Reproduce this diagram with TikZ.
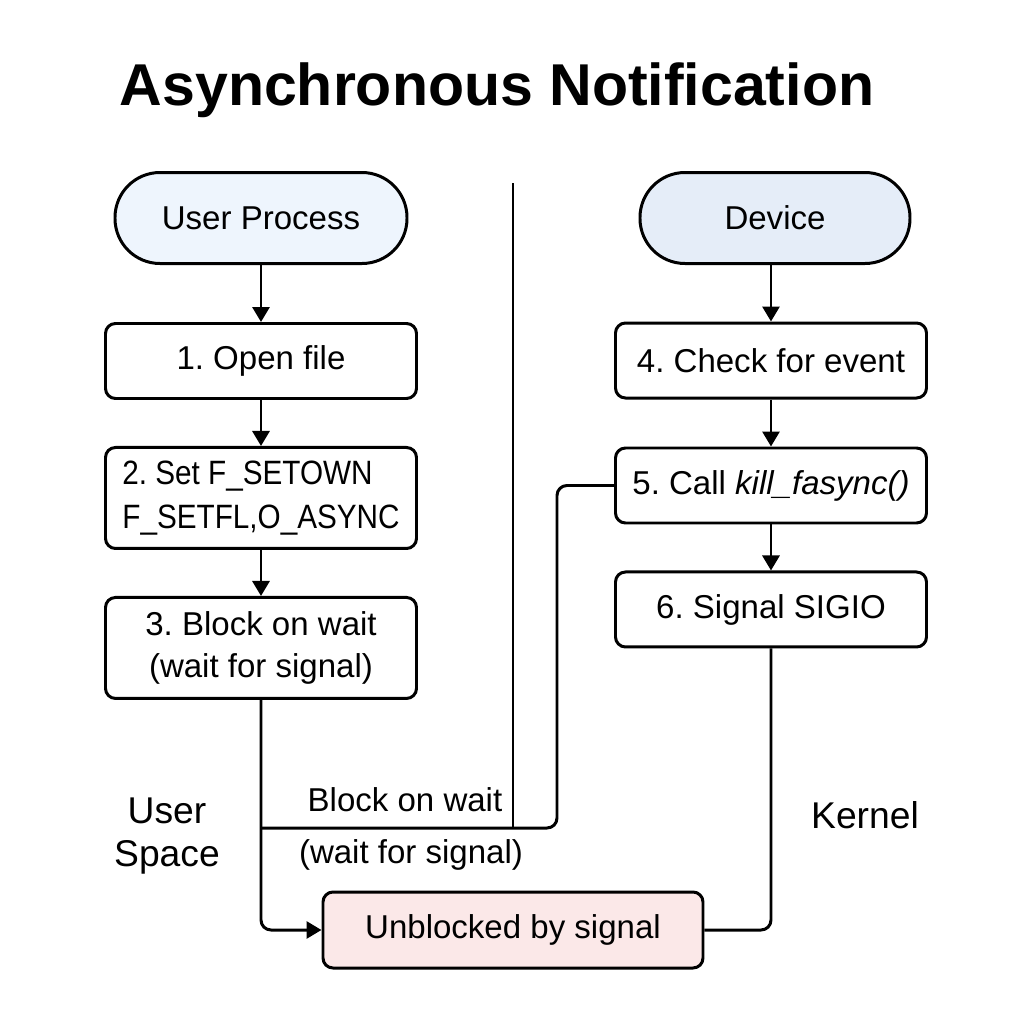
\documentclass[tikz,border=0pt]{standalone}
\usepackage{fontspec}
\setmainfont{Liberation Sans}
\newfontfamily\narrowsans[FakeStretch=0.88]{Liberation Sans}
\usepackage{xcolor}
\usetikzlibrary{shapes,arrows.meta,positioning}
\definecolor{userblue}{HTML}{EEF5FD}
\definecolor{deviceblue}{HTML}{E5EDF8}
\definecolor{unblockpink}{HTML}{FBE8E8}
\frenchspacing

\begin{document}
\begin{tikzpicture}[line width=0.85pt,
  >={Triangle[length=0.15cm,width=0.17cm]},
  endpoint/.style={rectangle, draw, rounded corners=0.45cm, minimum height=0.91cm, font=\fontsize{9.4}{12}\selectfont},
  stepbox/.style={rectangle, draw, rounded corners=0.1cm, minimum width=3.11cm, minimum height=0.75cm, align=center, font=\fontsize{9.4}{12}\selectfont},
  sidelabel/.style={font=\fontsize{10.6}{12}\selectfont, align=center},
  flow/.style={->},
  link/.style={rounded corners=0.1cm}]
\useasboundingbox[fill=white] (0,0) rectangle (10.24,-10.24);
\node (title) at (4.97,-0.90) [font=\fontsize{16.8}{20}\selectfont\bfseries] {Asynchronous Notification};

% user side
\node (user) at (2.61,-2.18) [endpoint, fill=userblue, minimum width=2.92cm] {User Process};
\node (open) [stepbox, below=0.57cm of user] {1. Open file};
\node (setown) [stepbox, below=0.46cm of open, minimum height=1.01cm, align=left, font=\fontsize{9.6}{12.4}\narrowsans] {2. Set F\_SETOWN\\F\_SETFL,O\_ASYNC};
\node (block) [stepbox, below=0.46cm of setown, minimum height=1.01cm] {3. Block on wait\\(wait for signal)};

% kernel side
\node (device) at (7.75,-2.18) [endpoint, fill=deviceblue, minimum width=2.70cm] {Device};
\node (check) at (7.71,-3.605) [stepbox] {4. Check for event};
\node (kill) [stepbox, below=0.47cm of check] {5. Call \textit{kill\_fasync()}};
\node (sigio) [stepbox, below=0.46cm of kill] {6. Signal SIGIO};

\node (unblock) at (5.13,-9.30) [stepbox, fill=unblockpink, minimum width=3.80cm, minimum height=0.76cm] {Unblocked by signal};

\node (userspace) at (1.67,-8.36) [sidelabel] {User\\Space};
\node (kernel) at (8.65,-8.15) [sidelabel] {Kernel};
\node (waitlabel) at (4.05,-8.00) [font=\fontsize{9.4}{12}\selectfont] {Block on wait};
\node (waitnote) at (4.11,-8.55) [font=\fontsize{9.4}{12}\selectfont] {(wait for signal)};

% divider
\coordinate (divtop) at (5.13,-1.83);
\coordinate (divbot) at (5.13,-8.28);
\coordinate (turn) at (5.57,-8.28);
\draw (divtop) -- (divbot);

\draw[flow] (user) -- (open);
\draw[flow] (open) -- (setown);
\draw[flow] (setown) -- (block);
\draw[flow] (check.north |- device.south) -- (check.north);
\draw[flow] (check) -- (kill);
\draw[flow] (kill) -- (sigio);

\draw[link] (kill.west) -| (turn) -- (block.south |- turn);
\draw[flow, link] (block.south) |- (unblock.west);
\draw[link] (sigio.south) |- (unblock.east);
\end{tikzpicture}
\end{document}
